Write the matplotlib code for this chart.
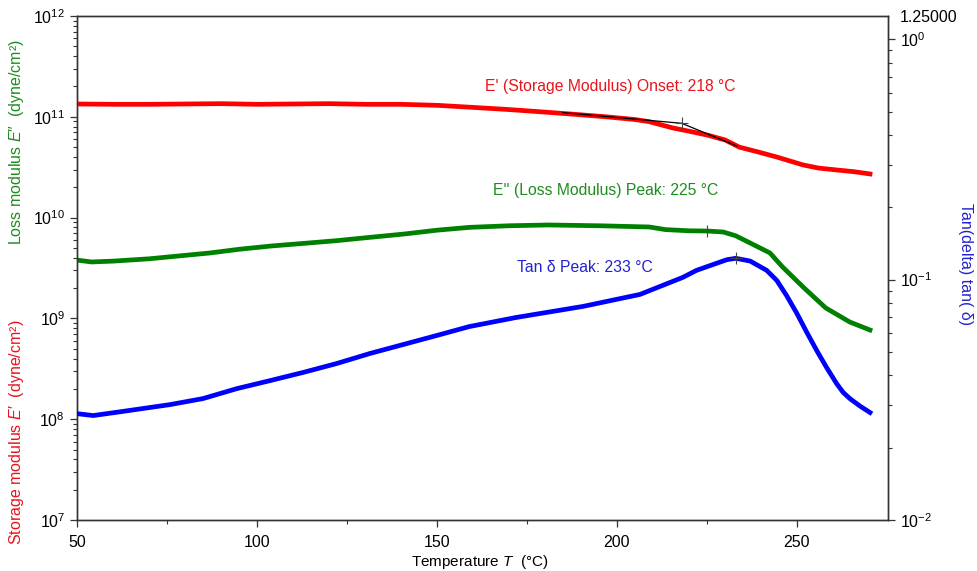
import matplotlib
matplotlib.use("Agg")
import matplotlib.pyplot as plt
from matplotlib.ticker import LogLocator, FixedLocator, FixedFormatter, NullFormatter

plt.rcParams['font.family'] = ['Liberation Sans', 'DejaVu Sans']
plt.rcParams['mathtext.fontset'] = 'custom'
plt.rcParams['mathtext.rm'] = 'Liberation Sans'
plt.rcParams['mathtext.it'] = 'Liberation Sans:italic'

# Storage modulus E' (dyne/cm^2)
temp_storage = [50, 60, 70, 80, 90, 100, 110, 120, 130, 140, 150, 160, 170, 179,
                188, 197, 205, 209, 215.6, 220, 225, 230, 234, 239, 244.4, 251.7,
                256, 261, 266, 270.3]
storage = [1.34e11, 1.33e11, 1.33e11, 1.34e11, 1.35e11, 1.33e11, 1.34e11, 1.35e11,
           1.33e11, 1.33e11, 1.30e11, 1.24e11, 1.18e11, 1.12e11, 1.06e11, 1.00e11,
           9.4e10, 8.94e10, 7.74e10, 7.2e10, 6.6e10, 5.9e10, 5.0e10, 4.5e10,
           3.99e10, 3.33e10, 3.1e10, 2.97e10, 2.85e10, 2.71e10]

# Loss modulus E'' (dyne/cm^2)
temp_loss = [50, 54, 60, 70, 76, 87, 95, 104, 113, 122, 131, 141, 150, 159, 170,
             181, 195, 209, 213.5, 220, 225, 229.5, 233, 237, 242.5, 246, 251.7,
             258, 264.7, 270.3]
loss = [3.79e9, 3.63e9, 3.7e9, 3.9e9, 4.09e9, 4.46e9, 4.85e9, 5.23e9, 5.55e9,
        5.90e9, 6.35e9, 6.88e9, 7.5e9, 8.0e9, 8.3e9, 8.45e9, 8.3e9, 8.07e9,
        7.6e9, 7.4e9, 7.36e9, 7.2e9, 6.6e9, 5.6e9, 4.46e9, 3.24e9, 2.05e9,
        1.27e9, 9.2e8, 7.67e8]

# Loss tangent tan(delta)
temp_tan = [50, 54.5, 62, 75.8, 85, 94.4, 103.6, 112.8, 122.2, 131.4, 140.6, 150,
            159, 172, 190.6, 206.4, 218.3, 222.1, 227.7, 230.5, 233, 237, 241.6,
            244.4, 247.1, 250, 252.7, 255.5, 258.2, 261, 262.8, 264.7, 267.5, 270.3]
tan_delta = [0.0277, 0.0272, 0.0282, 0.0302, 0.0320, 0.0352, 0.0380, 0.0411,
             0.0448, 0.0493, 0.0537, 0.0586, 0.0638, 0.0696, 0.0774, 0.0868,
             0.1022, 0.1093, 0.117, 0.121, 0.1227, 0.1195, 0.1093, 0.0993,
             0.0860, 0.0723, 0.0605, 0.0507, 0.0432, 0.0370, 0.0340, 0.0320,
             0.0298, 0.0280]

# Onset construction (two tangents meeting at the onset) and peak points
onset_tangent_T = [185, 218, 233.3]
onset_tangent_E = [1.1e11, 8.62e10, 5.13e10]
onset_T, onset_E = 218, 8.62e10
loss_peak_T, loss_peak_E = 225, 7.36e9
tan_peak_T, tan_peak_val = 233, 0.1227

RED = '#ff0000'
GREEN = '#008000'
BLUE = '#0000ff'

fig = plt.figure(figsize=(9.77, 5.71), dpi=100)
ax = fig.add_axes([77/977, 1 - 520/571, (888 - 77)/977, (520 - 16)/571])
ax2 = ax.twinx()

ax.plot(temp_storage, storage, color=RED, lw=3.4, solid_joinstyle='round', zorder=3)
ax.plot(temp_loss, loss, color=GREEN, lw=3.4, solid_joinstyle='round', zorder=3)
ax2.plot(temp_tan, tan_delta, color=BLUE, lw=3.4, solid_joinstyle='round', zorder=3)

ax.plot(onset_tangent_T, onset_tangent_E, color='black', lw=0.9, zorder=4)
ax.plot([onset_T], [onset_E], marker='+', color='#444444', ms=9, mew=0.8, zorder=5)
ax.plot([loss_peak_T], [loss_peak_E], marker='+', color='#444444', ms=9, mew=0.8, zorder=5)
ax2.plot([tan_peak_T], [tan_peak_val], marker='+', color='#444444', ms=9, mew=0.8, zorder=5)

ax.set_yscale('log')
ax2.set_yscale('log')
ax.set_xlim(50, 275.3)
ax.set_ylim(1e7, 1e12)
ax2.set_ylim(0.01, 1.25)

ax.set_xticks([50, 100, 150, 200, 250])
ax.set_xticks([75, 125, 175, 225], minor=True)
ax.yaxis.set_major_locator(LogLocator(base=10, numticks=10))
ax.yaxis.set_minor_locator(LogLocator(base=10, subs=range(2, 10), numticks=20))
ax.yaxis.set_minor_formatter(NullFormatter())

ax2.yaxis.set_major_locator(FixedLocator([0.01, 0.1, 1.0, 1.25]))
ax2.yaxis.set_major_formatter(FixedFormatter([r'$\mathdefault{10^{-2}}$',
                                               r'$\mathdefault{10^{-1}}$',
                                               r'$\mathdefault{10^{0}}$', '1.25000']))
ax2.yaxis.set_minor_locator(LogLocator(base=10, subs=range(2, 10), numticks=20))
ax2.yaxis.set_minor_formatter(NullFormatter())

for a in (ax, ax2):
    for s in a.spines.values():
        s.set_color('#333333')
        s.set_linewidth(1.0)
    a.tick_params(which='major', direction='out', length=5, width=0.9,
                  colors='#333333', labelcolor='black', labelsize=11.5)
    a.tick_params(which='minor', direction='out', length=3, width=0.8, colors='#333333')
ax.tick_params(axis='x', which='major', pad=6)
ax2.tick_params(axis='x', which='both', length=0)
ax2.get_yticklines()[-1].set_visible(False)
ax2.get_yticklines()[-2].set_visible(False)

fig.text(610/977, 1 - 86/571, "E' (Storage Modulus) Onset: 218 °C", color='#e8141c',
         fontsize=11.3, ha='center', va='center')
fig.text(606/977, 1 - 191/571, "E'' (Loss Modulus) Peak: 225 °C", color='#1e8c1e',
         fontsize=11.3, ha='center', va='center')
fig.text(585/977, 1 - 267/571, "Tan δ Peak: 233 °C", color='#2323d0',
         fontsize=11.3, ha='center', va='center')

fig.text(480/977, 1 - 562/571, r"Temperature $\it{T}$  (°C)", fontsize=11,
         ha='center', va='center')
fig.text(17/977, 1 - 142/571, r"Loss modulus $\it{E}$″  (dyne/cm²)", color='#1e8c1e',
         fontsize=11.5, ha='center', va='center', rotation=90)
fig.text(17/977, 1 - 432/571, r"Storage modulus $\it{E}$′  (dyne/cm²)", color='#e8141c',
         fontsize=11.5, ha='center', va='center', rotation=90)
fig.text(965/977, 1 - 264/571, "Tan(delta) tan( δ)", color='#2323d0',
         fontsize=11.5, ha='center', va='center', rotation=270)

fig.savefig('out.png', dpi=100)
